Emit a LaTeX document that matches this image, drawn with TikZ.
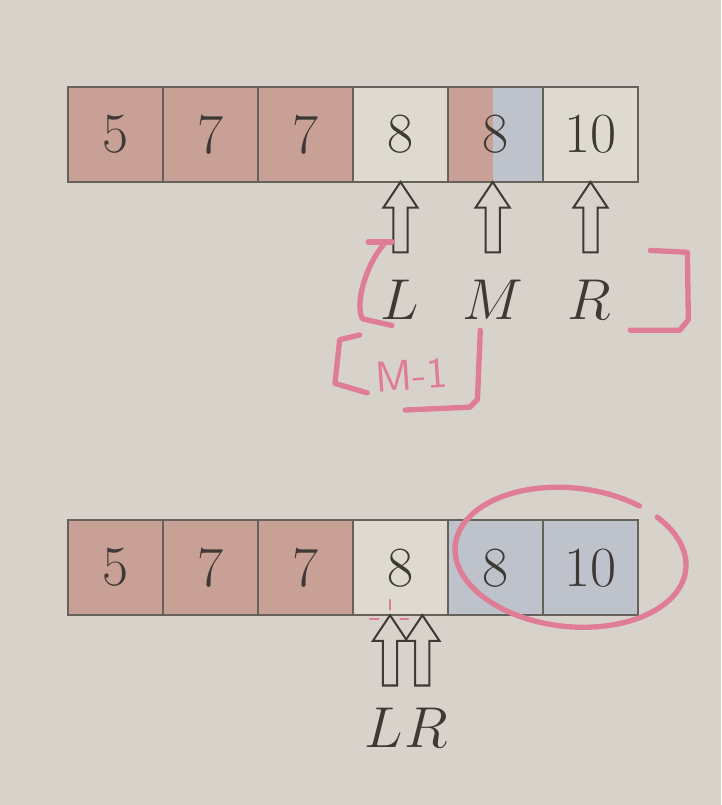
\documentclass[tikz,border=0pt]{standalone}
\usetikzlibrary{positioning}

\definecolor{bgcol}{HTML}{D8D3CA}
\definecolor{redcell}{HTML}{C9A096}
\definecolor{lightcell}{HTML}{DEDAD0}
\definecolor{bluecell}{HTML}{BEC2CB}
\definecolor{cellline}{HTML}{67615B}
\definecolor{ink}{HTML}{3E3935}
\definecolor{pen}{HTML}{E07D96}

\tikzset{
  cell/.style={draw=cellline, line width=0.7pt, minimum size=1cm, inner sep=0pt, outer sep=0pt,
    font=\fontsize{17}{20}\selectfont, text=ink},
  lbl/.style={font=\fontsize{17}{20}\selectfont, text=ink},
  marker/.style={draw=pen, line width=1.6pt, line cap=round, line join=round},
  harrow/.pic={
    \draw[draw=ink, fill=bgcol, line width=0.6pt] (0,0) -- (0.18,-0.27) -- (0.075,-0.27)
      -- (0.075,-0.74) -- (-0.075,-0.74) -- (-0.075,-0.27) -- (-0.18,-0.27) -- cycle;
  }
}

\begin{document}
\begin{tikzpicture}
\fill[bgcol] (-0.716,0.916) rectangle (6.874,-7.558);
\useasboundingbox (-0.716,0.916) rectangle (6.874,-7.558);

% top array
\fill[redcell] (4,0) rectangle (4.47,-1);
\fill[bluecell] (4.47,0) rectangle (5,-1);
\node[cell, fill=redcell] (t1) at (0.5,-0.5) {5};
\node[cell, fill=redcell] (t2) at (1.5,-0.5) {7};
\node[cell, fill=redcell] (t3) at (2.5,-0.5) {7};
\node[cell, fill=lightcell] (t4) at (3.5,-0.5) {8};
\node[cell] (t5) at (4.5,-0.5) {8};
\node[cell, fill=lightcell] (t6) at (5.5,-0.5) {10};

\pic at (t4.south) {harrow};
\pic at ([xshift=-0.03cm]t5.south) {harrow};
\pic at (t6.south) {harrow};

\node[lbl] (lL) at (3.49,-2.24) {$L$};
\node[lbl] (lM) at (4.47,-2.24) {$M$};
\node[lbl] (lR) at (5.49,-2.24) {$R$};

% hand notes
\draw[marker] (3.16,-1.63) -- (3.41,-1.63);
\draw[marker] (3.32,-1.66) .. controls (3.12,-1.9) and (3.02,-2.3) .. (3.1,-2.44) -- (3.41,-2.51);
\draw[marker] (6.13,-1.72) -- (6.52,-1.74) -- (6.53,-2.45) -- (6.44,-2.56) -- (5.92,-2.56);
\draw[marker] (3.07,-2.61) -- (2.86,-2.66) -- (2.81,-3.12) -- (3.15,-3.22);
\draw[marker] (4.34,-2.56) -- (4.31,-3.29) -- (4.23,-3.37) -- (3.55,-3.40);
\node[text=pen, font=\sffamily\fontsize{13}{15}\selectfont, rotate=4] (mm) at (3.62,-3.03) {M-1};

% bottom array
\node[cell, fill=redcell] (b1) at (0.5,-5.06) {5};
\node[cell, fill=redcell] (b2) at (1.5,-5.06) {7};
\node[cell, fill=redcell] (b3) at (2.5,-5.06) {7};
\node[cell, fill=lightcell] (b4) at (3.5,-5.06) {8};
\node[cell, fill=bluecell] (b5) at (4.5,-5.06) {8};
\node[cell, fill=bluecell] (b6) at (5.5,-5.06) {10};

\pic at ([xshift=-0.11cm]b4.south) {harrow};
\pic at ([xshift=0.23cm]b4.south) {harrow};

\node[lbl] (bL) at (3.32,-6.74) {$L$};
\node[lbl] (bR) at (3.77,-6.74) {$R$};

\draw[pen, line width=0.8pt, line cap=round] (3.39,-5.40) -- (3.39,-5.50);
\draw[pen, line width=0.8pt, line cap=round] (3.18,-5.6) -- (3.27,-5.6);
\draw[pen, line width=0.8pt, line cap=round] (3.5,-5.6) -- (3.58,-5.6);

\coordinate (ring) at (5.29,-4.95);
\draw[marker, shift={(ring)}, rotate=-6] (57:1.22 and 0.73)
  arc[start angle=57, end angle=405, x radius=1.22, y radius=0.73];
\end{tikzpicture}
\end{document}
